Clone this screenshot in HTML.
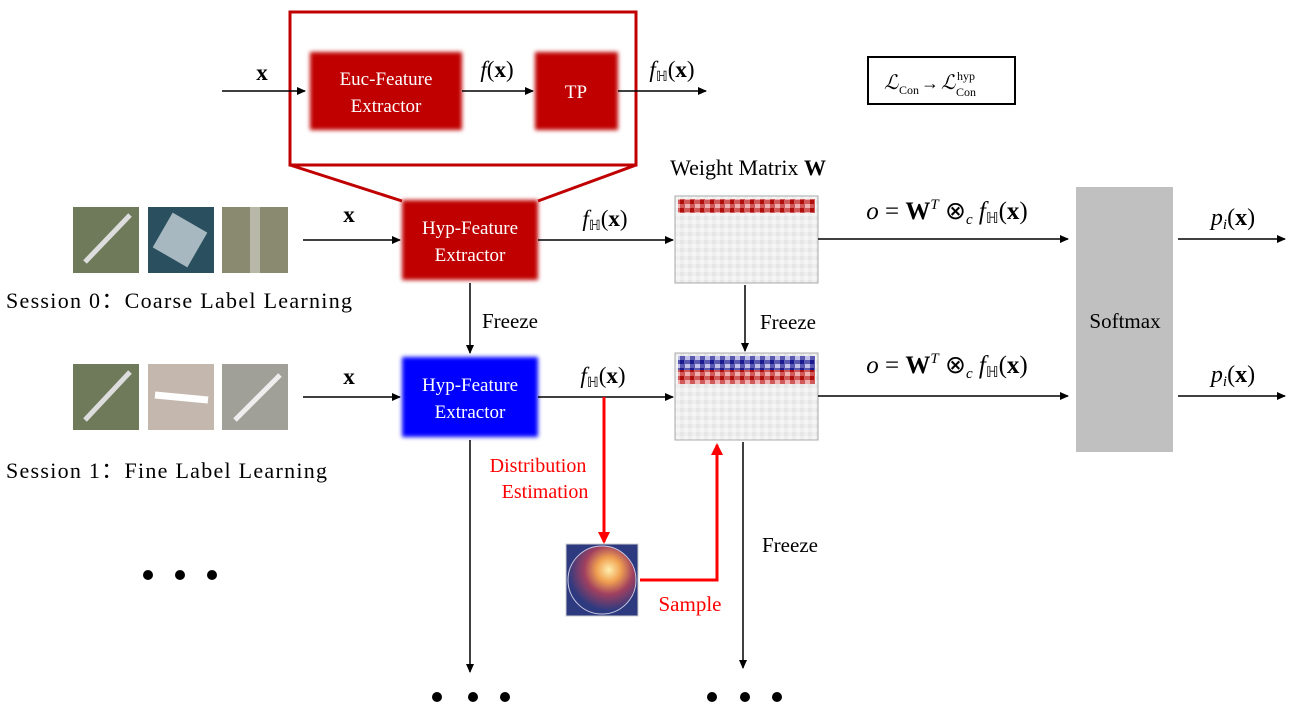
<!DOCTYPE html>
<html><head><meta charset="utf-8"><style>
body{margin:0;background:#fff}
svg text{font-family:"Liberation Serif",serif;fill:#000}
</style></head><body>
<svg width="1298" height="715" viewBox="0 0 1298 715" xmlns="http://www.w3.org/2000/svg">
<defs>
<marker id="a" markerWidth="10" markerHeight="10" refX="8" refY="5" orient="auto" markerUnits="userSpaceOnUse"><path d="M0,1 L9,5 L0,9 z" fill="#000"/></marker>
<marker id="r" markerWidth="14" markerHeight="14" refX="10" refY="7" orient="auto" markerUnits="userSpaceOnUse"><path d="M0,1 L12,7 L0,13 z" fill="#f00"/></marker>
<filter id="bl" x="-10%" y="-10%" width="120%" height="120%"><feGaussianBlur stdDeviation="2"/></filter>
<pattern id="noise" width="8" height="8" patternUnits="userSpaceOnUse"><rect width="8" height="8" fill="#efefef"/><rect width="4" height="4" fill="#e6e6e6"/><rect x="4" y="4" width="4" height="4" fill="#f5f5f5"/></pattern>
<pattern id="red" width="10" height="8" patternUnits="userSpaceOnUse"><rect width="10" height="8" fill="#d05a5a"/><rect width="4" height="4" fill="#b00d0d"/><rect x="5" y="4" width="5" height="4" fill="#f0b0b0"/></pattern>
<pattern id="blue" width="10" height="8" patternUnits="userSpaceOnUse"><rect width="10" height="8" fill="#5a5ab0"/><rect width="4" height="4" fill="#1a1a90"/><rect x="5" y="4" width="5" height="4" fill="#c0c0ea"/></pattern>
<radialGradient id="disk" cx="0.6" cy="0.35" r="0.6"><stop offset="0" stop-color="#fff0b0"/><stop offset="0.3" stop-color="#f0a050"/><stop offset="0.6" stop-color="#a04060"/><stop offset="1" stop-color="#2e3a80"/></radialGradient>
</defs>

<!-- top zoom box -->
<rect x="290" y="12" width="346" height="153" fill="none" stroke="#c00000" stroke-width="3"/>
<line x1="290" y1="165" x2="402" y2="201" stroke="#c00000" stroke-width="3"/>
<line x1="636" y1="165" x2="538" y2="201" stroke="#c00000" stroke-width="3"/>
<rect x="310" y="52" width="152" height="78" fill="#c00000" filter="url(#bl)"/>
<text x="386" y="85" font-size="19" text-anchor="middle" style="fill:#fff">Euc-Feature</text>
<text x="386" y="112" font-size="19" text-anchor="middle" style="fill:#fff">Extractor</text>
<rect x="535" y="52" width="83" height="78" fill="#c00000" filter="url(#bl)"/>
<text x="576" y="98" font-size="19" text-anchor="middle" style="fill:#fff">TP</text>
<line x1="222" y1="91" x2="305" y2="91" stroke="#000" stroke-width="1.5" marker-end="url(#a)"/>
<text x="262" y="80" font-size="23" font-weight="bold" text-anchor="middle">x</text>
<line x1="462" y1="91" x2="533" y2="91" stroke="#000" stroke-width="1.5" marker-end="url(#a)"/>
<text x="497" y="77" font-size="23" text-anchor="middle"><tspan font-style="italic">f</tspan>(<tspan font-weight="bold">x</tspan>)</text>
<line x1="618" y1="91" x2="706" y2="91" stroke="#000" stroke-width="1.5" marker-end="url(#a)"/>
<text x="672" y="77" font-size="23" text-anchor="middle"><tspan font-style="italic">f</tspan><tspan font-size="14" dy="4">ℍ</tspan><tspan dy="-4">(</tspan><tspan font-weight="bold">x</tspan>)</text>
<rect x="868" y="57" width="147" height="47" fill="#fff" stroke="#000" stroke-width="2"/>
<text x="884" y="89" font-size="20" font-style="italic">ℒ</text>
<text x="899" y="94" font-size="12">Con</text>
<text x="921" y="89" font-size="18">→</text>
<text x="941" y="89" font-size="20" font-style="italic">ℒ</text>
<text x="956" y="96" font-size="12">Con</text>
<text x="957" y="80" font-size="12">hyp</text>

<!-- images row 1 -->
<rect x="73" y="207" width="66" height="66" fill="#6e7a5a"/><line x1="85" y1="262" x2="130" y2="215" stroke="#ddd" stroke-width="5"/>
<rect x="148" y="207" width="66" height="66" fill="#2a5060"/><rect x="160" y="220" width="40" height="40" fill="#a8b8c0" transform="rotate(30 180 240)"/>
<rect x="222" y="207" width="66" height="66" fill="#8a8a70"/><rect x="250" y="207" width="10" height="66" fill="#b8b8a8"/>
<!-- images row 2 -->
<rect x="73" y="364" width="66" height="66" fill="#6e7a5a"/><line x1="85" y1="420" x2="130" y2="372" stroke="#ddd" stroke-width="5"/>
<rect x="148" y="364" width="66" height="66" fill="#c4b8ae"/><line x1="155" y1="395" x2="208" y2="400" stroke="#fff" stroke-width="7"/>
<rect x="222" y="364" width="66" height="66" fill="#a0a098"/><line x1="235" y1="420" x2="280" y2="375" stroke="#eee" stroke-width="5"/>

<text x="6" y="308" font-size="22" textLength="346" lengthAdjust="spacing">Session 0：Coarse Label Learning</text>
<text x="6" y="478" font-size="22" textLength="321" lengthAdjust="spacing">Session 1：Fine Label Learning</text>
<circle cx="148" cy="575" r="5"/><circle cx="180" cy="575" r="5"/><circle cx="212" cy="575" r="5"/>

<line x1="303" y1="240" x2="400" y2="240" stroke="#000" stroke-width="1.5" marker-end="url(#a)"/>
<text x="349" y="222" font-size="23" font-weight="bold" text-anchor="middle">x</text>
<line x1="303" y1="397" x2="400" y2="397" stroke="#000" stroke-width="1.5" marker-end="url(#a)"/>
<text x="349" y="384" font-size="23" font-weight="bold" text-anchor="middle">x</text>

<rect x="402" y="200" width="136" height="80" fill="#c00000" filter="url(#bl)"/>
<text x="470" y="234" font-size="19" text-anchor="middle" style="fill:#fff">Hyp-Feature</text>
<text x="470" y="261" font-size="19" text-anchor="middle" style="fill:#fff">Extractor</text>
<rect x="402" y="357" width="136" height="80" fill="#0000ff" filter="url(#bl)"/>
<text x="470" y="391" font-size="19" text-anchor="middle" style="fill:#fff">Hyp-Feature</text>
<text x="470" y="418" font-size="19" text-anchor="middle" style="fill:#fff">Extractor</text>

<line x1="470" y1="283" x2="470" y2="353" stroke="#000" stroke-width="1.5" marker-end="url(#a)"/>
<text x="482" y="328" font-size="21">Freeze</text>
<line x1="470" y1="440" x2="470" y2="672" stroke="#000" stroke-width="1.5" marker-end="url(#a)"/>
<circle cx="437" cy="697" r="5"/><circle cx="473" cy="697" r="5"/><circle cx="505" cy="697" r="5"/>

<line x1="538" y1="240" x2="673" y2="240" stroke="#000" stroke-width="1.5" marker-end="url(#a)"/>
<text x="605" y="226" font-size="23" text-anchor="middle"><tspan font-style="italic">f</tspan><tspan font-size="14" dy="4">ℍ</tspan><tspan dy="-4">(</tspan><tspan font-weight="bold">x</tspan>)</text>
<line x1="538" y1="397" x2="673" y2="397" stroke="#000" stroke-width="1.5" marker-end="url(#a)"/>
<text x="603" y="383" font-size="23" text-anchor="middle"><tspan font-style="italic">f</tspan><tspan font-size="14" dy="4">ℍ</tspan><tspan dy="-4">(</tspan><tspan font-weight="bold">x</tspan>)</text>

<text x="748" y="175" font-size="22" text-anchor="middle">Weight Matrix <tspan font-weight="bold">W</tspan></text>
<rect x="675" y="196" width="143" height="87" fill="url(#noise)" stroke="#aaa" stroke-width="1"/>
<rect x="678" y="199" width="137" height="14" fill="url(#red)"/>
<rect x="675" y="353" width="143" height="87" fill="url(#noise)" stroke="#aaa" stroke-width="1"/>
<rect x="678" y="356" width="137" height="14" fill="url(#blue)"/>
<rect x="678" y="370" width="137" height="14" fill="url(#red)"/>

<line x1="745" y1="285" x2="745" y2="351" stroke="#000" stroke-width="1.5" marker-end="url(#a)"/>
<text x="760" y="329" font-size="21">Freeze</text>
<line x1="743" y1="442" x2="743" y2="668" stroke="#000" stroke-width="1.5" marker-end="url(#a)"/>
<text x="762" y="552" font-size="21">Freeze</text>
<circle cx="712" cy="697" r="5"/><circle cx="745" cy="697" r="5"/><circle cx="777" cy="697" r="5"/>

<!-- red path -->
<line x1="604" y1="397" x2="604" y2="542" stroke="#f00" stroke-width="3" marker-end="url(#r)"/>
<text x="538" y="472" font-size="20" text-anchor="middle" style="fill:#f00">Distribution</text>
<text x="545" y="498" font-size="20" text-anchor="middle" style="fill:#f00">Estimation</text>
<rect x="566" y="544" width="72" height="72" fill="#2e3a80" stroke="#ccc"/>
<circle cx="602" cy="580" r="34" fill="url(#disk)" stroke="#c8c8e0" stroke-width="1"/>
<polyline points="640,580 717,580 717,445" fill="none" stroke="#f00" stroke-width="3" marker-end="url(#r)"/>
<text x="690" y="611" font-size="21" text-anchor="middle" style="fill:#f00">Sample</text>

<!-- outputs -->
<line x1="818" y1="239" x2="1068" y2="239" stroke="#000" stroke-width="1.5" marker-end="url(#a)"/>
<text x="947" y="219" font-size="25" text-anchor="middle"><tspan font-style="italic">o</tspan> = <tspan font-weight="bold">W</tspan><tspan font-size="15" dy="-10" font-style="italic">T</tspan><tspan dy="10"> ⊗</tspan><tspan font-size="15" dy="5" font-style="italic">c</tspan><tspan dy="-5" font-style="italic"> f</tspan><tspan font-size="15" dy="4">ℍ</tspan><tspan dy="-4">(</tspan><tspan font-weight="bold">x</tspan>)</text>
<line x1="818" y1="396" x2="1068" y2="396" stroke="#000" stroke-width="1.5" marker-end="url(#a)"/>
<text x="947" y="373" font-size="25" text-anchor="middle"><tspan font-style="italic">o</tspan> = <tspan font-weight="bold">W</tspan><tspan font-size="15" dy="-10" font-style="italic">T</tspan><tspan dy="10"> ⊗</tspan><tspan font-size="15" dy="5" font-style="italic">c</tspan><tspan dy="-5" font-style="italic"> f</tspan><tspan font-size="15" dy="4">ℍ</tspan><tspan dy="-4">(</tspan><tspan font-weight="bold">x</tspan>)</text>
<rect x="1076" y="187" width="97" height="265" fill="#c0c0c0"/>
<text x="1125" y="328" font-size="21" text-anchor="middle">Softmax</text>
<line x1="1178" y1="239" x2="1285" y2="239" stroke="#000" stroke-width="1.5" marker-end="url(#a)"/>
<text x="1233" y="225" font-size="24" text-anchor="middle"><tspan font-style="italic">p</tspan><tspan font-size="15" dy="4" font-style="italic">i</tspan><tspan dy="-4">(</tspan><tspan font-weight="bold">x</tspan>)</text>
<line x1="1178" y1="396" x2="1285" y2="396" stroke="#000" stroke-width="1.5" marker-end="url(#a)"/>
<text x="1233" y="382" font-size="24" text-anchor="middle"><tspan font-style="italic">p</tspan><tspan font-size="15" dy="4" font-style="italic">i</tspan><tspan dy="-4">(</tspan><tspan font-weight="bold">x</tspan>)</text>
</svg>
</body></html>
